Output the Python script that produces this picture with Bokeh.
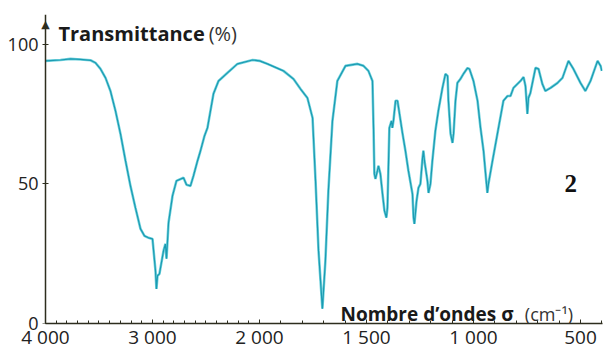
from bokeh.plotting import figure
from bokeh.models import FixedTicker, Label, ColumnDataSource, LinearAxis
from bokeh.embed import file_html
from bokeh.resources import INLINE

# --- data ---
wavenumber = [4000, 3860, 3766, 3673, 3579, 3533, 3486, 3439, 3393, 3346,
              3299, 3252, 3206, 3159, 3112, 3075, 3037, 3000, 2972, 2963,
              2953, 2935, 2897, 2879, 2869, 2850, 2813, 2776, 2710, 2682,
              2645, 2617, 2579, 2551, 2514, 2486, 2430, 2383, 2299, 2206,
              2065, 2000,
              1963, 1888, 1841, 1808, 1776, 1752, 1738, 1724, 1706, 1692,
              1678, 1659, 1636, 1598, 1542, 1514, 1491, 1472, 1467, 1463,
              1458, 1449, 1444, 1435, 1425, 1416, 1407, 1402, 1393, 1383,
              1379, 1374, 1364, 1355, 1350, 1332, 1318, 1304, 1285, 1280,
              1276, 1266, 1257, 1248, 1238, 1234, 1229, 1215, 1210, 1201,
              1192, 1178, 1164, 1145, 1131, 1121, 1117, 1107, 1098, 1093,
              1084, 1075, 1061, 1047, 1028, 1019, 1000, 981, 967, 953,
              939, 935, 930, 911, 888, 860, 841, 827, 813, 780,
              766, 757, 748, 743, 734, 710, 696, 678, 664, 640,
              607, 584, 556, 533, 500, 477, 453, 420, 406, 400]
transmittance = [94.1, 94.4, 94.8, 94.6, 94.3, 93.4, 91.2, 88.0, 83.3, 76.2,
                 67.9, 58.3, 49.3, 41.4, 33.9, 31.4, 30.7, 30.3, 18.9, 12.4,
                 17.1, 17.8, 26.0, 28.5, 23.2, 36.1, 45.7, 51.1, 52.2, 49.7,
                 49.3, 52.9, 58.3, 61.9, 67.2, 70.1, 82.3, 86.9, 89.8, 93.0,
                 94.4, 94.1,
                 93.0, 90.5, 87.6, 84.0, 80.8, 73.7, 51.1, 26.0, 5.3, 22.4,
                 47.5, 72.6, 86.9, 92.3, 93.0, 92.3, 90.5, 86.9, 70.1, 53.6,
                 51.8, 54.7, 56.5, 53.6, 46.4, 40.4, 37.9, 41.4, 70.1, 72.6,
                 70.1, 72.6, 79.8, 79.8, 77.3, 68.3, 61.9, 54.7, 46.4, 37.9,
                 35.7, 43.9, 48.6, 50.0, 59.3, 61.9, 58.3, 51.1, 46.8, 50.0,
                 58.3, 69.0, 76.2, 84.4, 89.4, 88.7, 79.8, 68.0, 64.7, 68.0,
                 79.8, 86.2, 87.6, 89.4, 91.5, 91.2, 86.9, 79.8, 70.1, 61.9,
                 50.0, 46.8, 50.0, 58.3, 68.0, 79.8, 81.5, 81.5, 84.4, 86.9,
                 88.3, 85.1, 75.1, 80.8, 82.6, 91.6, 91.2, 85.8, 83.3, 84.4,
                 86.2, 88.0, 94.1, 91.2, 86.2, 83.3, 86.9, 94.1, 92.3, 90.5]

x_tick_values = [4000, 3000, 2000, 1500, 1000, 500]
x_tick_labels = ["4 000", "3 000", "2 000", "1 500", "1 000", "500"]
x_minor_values = [w for w in range(4000, 399, -100)]
y_tick_values = [0, 50, 100]
y_tick_labels = ["0", "50", "100"]


def to_axis(wn):
    """IR abscissa: the scale doubles below 2000 cm-1."""
    return 4000 - wn if wn >= 2000 else 2000 + 2 * (2000 - wn)


src = ColumnDataSource(dict(u=[to_axis(w) for w in wavenumber], t=transmittance))

AX = "#2d2d1e"
FONT = "Open Sans"
X_END = 5206

p = figure(width=610, height=352, x_range=(-46.7, X_END), y_range=(0, 110.7),
           output_backend="svg", toolbar_location=None,
           min_border_left=40, min_border_right=8, min_border_top=14, min_border_bottom=29)
p.outline_line_color = None
p.grid.visible = False
p.background_fill_color = "white"

p.line("u", "t", source=src, line_color="#72d2dd", line_width=2.6)
p.line("u", "t", source=src, line_color="#1a9bb2", line_width=1.2)

# x axis
xa = p.xaxis[0]
xa.bounds = (0, X_END)
xa.ticker = FixedTicker(ticks=[to_axis(w) for w in x_tick_values],
                        minor_ticks=[to_axis(w) for w in x_minor_values])
xa.major_label_overrides = {to_axis(w): lab for w, lab in zip(x_tick_values, x_tick_labels)}
xa.axis_line_color = AX
xa.axis_line_width = 1.5
xa.major_tick_line_color = AX
xa.minor_tick_line_color = AX
xa.major_tick_in = 4
xa.major_tick_out = 0
xa.minor_tick_in = 3
xa.minor_tick_out = 0
xa.major_label_standoff = 0
xa.major_label_text_font = FONT
xa.major_label_text_font_size = "19px"
xa.major_label_text_color = "#222222"

# y axis labels (at the frame edge)
ya = p.yaxis[0]
ya.ticker = FixedTicker(ticks=y_tick_values, minor_ticks=[])
ya.major_label_overrides = {v: lab for v, lab in zip(y_tick_values, y_tick_labels)}
ya.axis_line_color = None
ya.major_tick_line_color = None
ya.minor_tick_line_color = None
ya.major_tick_in = 0
ya.major_tick_out = 0
ya.major_label_standoff = 2
ya.major_label_text_font = FONT
ya.major_label_text_font_size = "18px"
ya.major_label_text_color = "#222222"

# y axis line and ticks, drawn at 4000 cm-1
yb = LinearAxis(fixed_location=to_axis(4000),
                ticker=FixedTicker(ticks=y_tick_values, minor_ticks=[]),
                major_label_overrides={v: "" for v in y_tick_values},
                axis_line_color=AX, axis_line_width=1.5,
                major_tick_line_color=AX, major_tick_in=3, major_tick_out=3,
                minor_tick_line_color=None, major_label_standoff=0,
                major_label_text_font_size="1px")
p.add_layout(yb, "left")

# arrow head on top of the y axis
p.add_layout(Label(x=to_axis(4000), y=107.0, text="\u25b2", text_font="DejaVu Sans",
                   text_font_size="11px", text_color=AX, text_align="center",
                   text_baseline="alphabetic"))

# axis titles
p.add_layout(Label(x=121, y=103.8, text="Transmittance", text_font=FONT,
                   text_font_style="bold", text_font_size="20px",
                   text_color="#1a1a1a", text_baseline="alphabetic"))
p.add_layout(Label(x=1525, y=103.8, text="(%)", text_font=FONT,
                   text_font_size="20px", text_color="#333333",
                   text_baseline="alphabetic"))
p.add_layout(Label(x=2757, y=3.5, text="Nombre d\u2019ondes \u03c3", text_font=FONT,
                   text_font_style="bold", text_font_size="19px",
                   text_color="#1a1a1a", text_baseline="alphabetic"))
p.add_layout(Label(x=4480, y=3.5, text="(cm\u207b\u00b9)", text_font=FONT,
                   text_font_size="18px", text_color="#333333",
                   text_baseline="alphabetic"))

# spectrum number
p.add_layout(Label(x=4910, y=50.3, text="2", text_font="Liberation Serif",
                   text_font_style="bold", text_font_size="25px",
                   text_color="#111111", text_align="center",
                   text_baseline="alphabetic"))

open("out.html", "w").write(file_html(p, INLINE))
